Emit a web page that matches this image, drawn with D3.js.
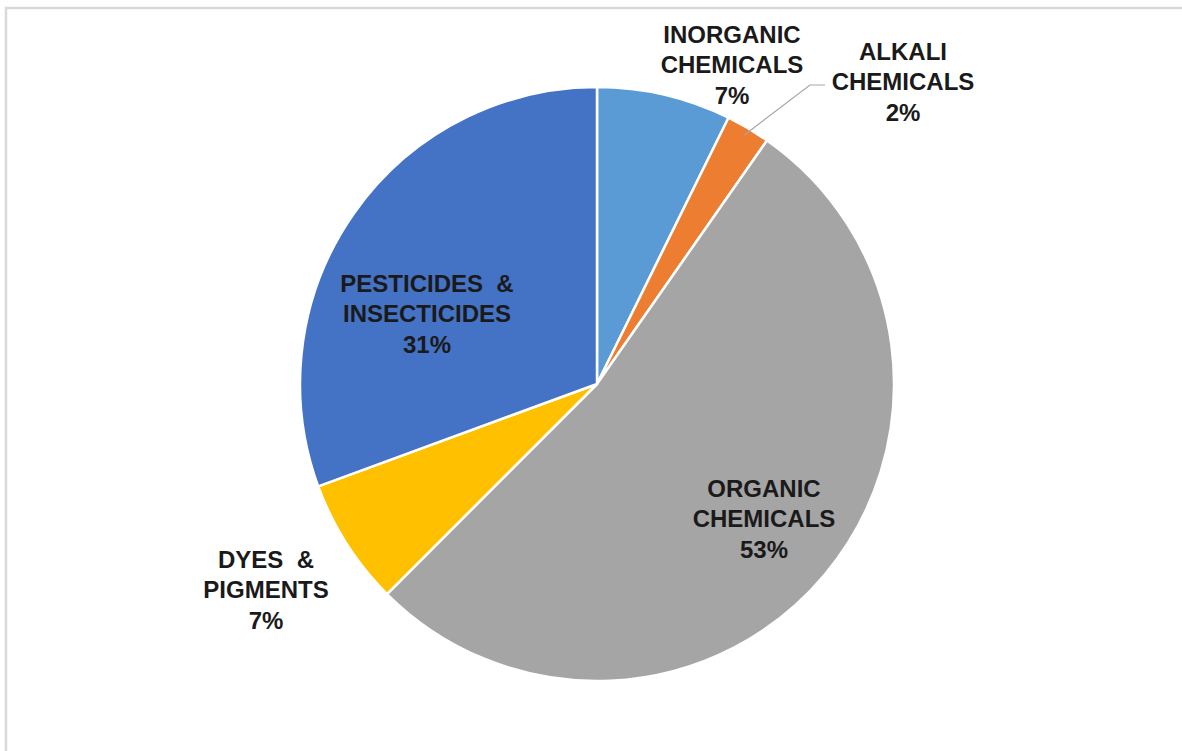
<!DOCTYPE html>
<html>
<head>
<meta charset="utf-8">
<script src="https://cdn.jsdelivr.net/npm/d3@7"></script>
<style>
  html, body { margin: 0; padding: 0; background: #fff; }
  svg { display: block; }
</style>
</head>
<body>
<div id="chart"></div>
<script>
const width = 1182;
const height = 751;

// slices, clockwise from 12 o'clock
const categories = [
  ['INORGANIC', 'CHEMICALS'],
  ['ALKALI', 'CHEMICALS'],
  ['ORGANIC', 'CHEMICALS'],
  ['DYES  &', 'PIGMENTS'],
  ['PESTICIDES  &', 'INSECTICIDES']
];
const values = [7.3, 2.4, 52.8, 6.9, 30.6];
const colors = ['#5b9bd5', '#ed7d31', '#a5a5a5', '#ffc000', '#4472c4'];

// label anchor (centre of middle line) relative to pie centre
const labelOffsets = [[135, -311], [306, -294], [167, 143], [-331, 214], [-170, -62]];

const cx = 597, cy = 384, radius = 297;
const lineGap = 30.5;

const svg = d3.select('#chart').append('svg')
  .attr('width', width)
  .attr('height', height);

// outer chart frame (only top and left edges visible)
svg.append('rect')
  .attr('x', 6)
  .attr('y', 8)
  .attr('width', width + 20)
  .attr('height', height + 20)
  .attr('fill', 'none')
  .attr('stroke', '#d9d9d9')
  .attr('stroke-width', 2.5);

const total = d3.sum(values);
const pie = d3.pie().sort(null).value(d => d);
const arcs = pie(values);
const arc = d3.arc().innerRadius(0).outerRadius(radius);

const g = svg.append('g').attr('transform', `translate(${cx},${cy})`);

g.selectAll('path.slice')
  .data(arcs)
  .enter().append('path')
  .attr('class', 'slice')
  .attr('d', arc)
  .attr('fill', (d, i) => colors[i])
  .attr('stroke', '#fff')
  .attr('stroke-width', 2.5)
  .attr('stroke-linejoin', 'round');

// leader line for the small alkali slice
const alkali = arcs[1];
const midA = (alkali.startAngle + alkali.endAngle) / 2;
const edge = [Math.sin(midA) * (radius - 8), -Math.cos(midA) * (radius - 8)];
const lp = labelOffsets[1];
g.append('polyline')
  .attr('points', [edge, [lp[0] - 93, lp[1] - 5], [lp[0] - 78, lp[1] - 5]].map(p => p.join(',')).join(' '))
  .attr('fill', 'none')
  .attr('stroke', '#a6a6a6')
  .attr('stroke-width', 1.2);

const labels = g.selectAll('text.label')
  .data(arcs)
  .enter().append('text')
  .attr('class', 'label')
  .attr('text-anchor', 'middle')
  .attr('font-family', 'Liberation Sans, Arial, sans-serif')
  .attr('font-weight', 'bold')
  .attr('font-size', 24)
  .attr('fill', '#1a1a1a')
  .style('white-space', 'pre');

labels.each(function (d, i) {
  const t = d3.select(this);
  const [ox, oy] = labelOffsets[i];
  const lines = categories[i].concat([Math.round(values[i] / total * 100) + '%']);
  lines.forEach((s, k) => {
    t.append('tspan')
      .attr('x', ox)
      .attr('y', oy + (k - 1) * lineGap)
      .text(s);
  });
});
</script>
</body>
</html>
